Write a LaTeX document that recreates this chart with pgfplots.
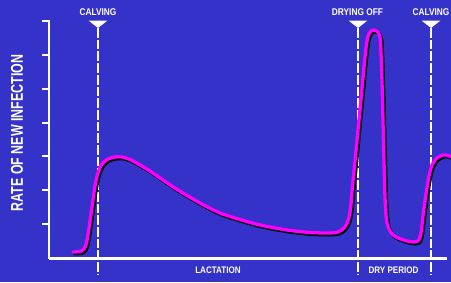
\documentclass[border=0pt]{standalone}
\usepackage{pgfplots}
\pgfplotsset{compat=1.18}
\usepackage{pgfplotstable}
\usepackage{fontspec}
\setmainfont{Liberation Sans}[FakeStretch=0.85]
\newfontfamily\ylabfont{Liberation Sans}[FakeStretch=0.73]
\definecolor{bgblue}{RGB}{52,50,200}
\definecolor{mag}{RGB}{255,0,255}
\pgfplotstableread{
x y
73 30
80 30.5
84 33
86.5 39
89 54
92 75
95 96
98 109
102 118
108 123
115 125
122 125
130 122.5
140 117
150 111
160 104
178 92
200 79
220 69
240 62.5
260 57
287 52
310 49.5
330 49
338 50
344 54
348 61
350.5 73
352.5 96
355.5 126
358.5 157
361.5 188
364.5 220
366.8 240
369 248.5
372 251.5
375.5 251.5
378.5 249
380.5 240
382 200
383.5 140
385 85
386.5 62
389 53
392 48
397 44.5
407 41
414 40
418.5 41.5
421 49
423 66
426 88
429 106
432 117
437 124
443 127
448 126.5
452 125
}\curve
\begin{document}
\begin{tikzpicture}
\useasboundingbox (0,0) rectangle (451pt,282pt);
\clip (0,0) rectangle (451pt,282pt);
\fill[bgblue] (0,0) rectangle (451pt,282pt);
\begin{axis}[
  at={(49pt,23.5pt)}, anchor=south west,
  scale only axis, width=398pt, height=238.5pt,
  xmin=49, xmax=447, ymin=23.5, ymax=262,
  axis x line*=bottom, axis y line*=left,
  axis line style={white, line width=2.3pt, -},
  xtick=\empty,
  ytick={261,227.2,193.3,159.5,125.7,91.8,58},
  yticklabels={},
  tick style={white, line width=2pt},
  major tick length=7pt, tick align=outside,
  clip=false, axis on top,
]
% dashed event lines
\foreach \xx in {98,358,431}{
  \edef\temp{\noexpand\draw[white, line width=2pt, dash pattern=on 9.7pt off 2pt] (axis cs:\xx,254) -- (axis cs:\xx,7);}
  \temp
  \edef\temp{\noexpand\fill[white] (axis cs:\xx-9.5,261.5) -- (axis cs:\xx+9.5,261.5) -- (axis cs:\xx,254) -- cycle;}
  \temp
}
\addplot[black, line width=3.3pt, smooth, tension=0.45, line cap=round, line join=round, xshift=1.5pt, yshift=-1.8pt] table[x=x,y=y] {\curve};
\addplot[mag, line width=3.3pt, smooth, tension=0.45, line cap=round, line join=round] table[x=x,y=y] {\curve};
\node[white, font=\fontsize{9.8}{11}\selectfont\bfseries] at (axis cs:98,270.3) {CALVING};
\node[white, font=\fontsize{9.8}{11}\selectfont\bfseries] at (axis cs:357.5,270.3) {DRYING OFF};
\node[white, font=\fontsize{9.8}{11}\selectfont\bfseries] at (axis cs:431,270.3) {CALVING};
\node[white, font=\fontsize{9.5}{11}\selectfont\bfseries] at (axis cs:218,12) {LACTATION};
\node[white, font=\fontsize{9.5}{11}\selectfont\bfseries] at (axis cs:393.5,12) {DRY PERIOD};
\node[white, rotate=90, font=\ylabfont\fontsize{17}{19}\selectfont\bfseries] at (axis cs:17,149) {RATE OF NEW INFECTION};
\end{axis}
\end{tikzpicture}
\end{document}
